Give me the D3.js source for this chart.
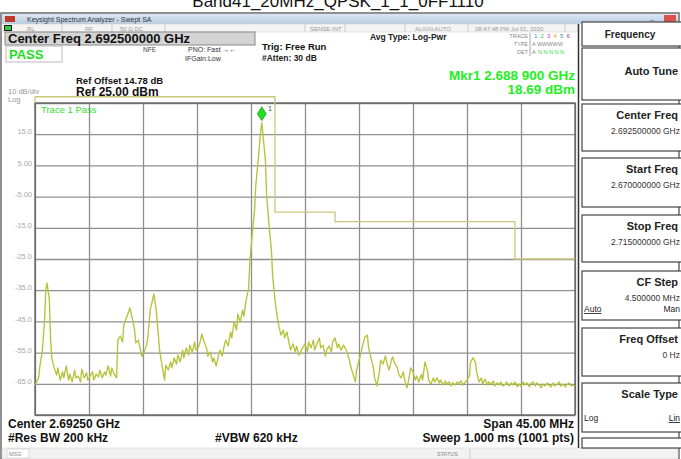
<!DOCTYPE html>
<html><head><meta charset="utf-8">
<script src="https://cdn.jsdelivr.net/npm/d3@7/dist/d3.min.js"></script>
<style>
html,body{margin:0;padding:0;background:#fff;overflow:hidden}
svg{display:block;font-family:"Liberation Sans",Arial,sans-serif}
</style></head>
<body>
<script>
// ---- data ----
const freqMHz = [2670.0,2670.3,2670.4,2670.6,2670.8,2670.9,2671.0,2671.2,2671.3,2671.4,2671.6,2671.8,2671.9,2672.1,2672.3,2672.4,2672.6,2672.8,2672.9,2673.1,2673.3,2673.4,2673.6,2673.8,2673.9,2674.1,2674.3,2674.4,2674.6,2674.8,2674.9,2675.1,2675.3,2675.4,2675.6,2675.8,2675.9,2676.1,2676.3,2676.4,2676.6,2676.8,2676.9,2677.1,2677.3,2677.4,2677.6,2677.8,2677.9,2678.1,2678.3,2678.4,2678.6,2678.8,2678.9,2679.1,2679.3,2679.4,2679.6,2679.8,2679.9,2680.1,2680.3,2680.4,2680.6,2680.8,2680.9,2681.1,2681.3,2681.4,2681.6,2681.8,2681.9,2682.1,2682.3,2682.4,2682.6,2682.8,2682.9,2683.1,2683.3,2683.4,2683.6,2683.8,2683.9,2684.1,2684.3,2684.4,2684.6,2684.8,2684.9,2685.1,2685.3,2685.4,2685.6,2685.8,2685.9,2686.1,2686.3,2686.4,2686.6,2686.8,2686.9,2687.1,2687.3,2687.4,2687.6,2687.8,2687.9,2688.1,2688.3,2688.4,2688.6,2688.8,2688.9,2689.0,2689.2,2689.3,2689.5,2689.7,2689.8,2690.0,2690.2,2690.3,2690.5,2690.7,2690.8,2691.0,2691.2,2691.3,2691.5,2691.7,2691.8,2692.0,2692.2,2692.3,2692.5,2692.7,2692.8,2693.0,2693.2,2693.3,2693.5,2693.7,2693.8,2694.0,2694.2,2694.3,2694.5,2694.7,2694.8,2695.0,2695.2,2695.3,2695.5,2695.7,2695.8,2696.0,2696.2,2696.3,2696.5,2696.7,2696.8,2697.0,2697.2,2697.3,2697.5,2697.7,2697.8,2698.0,2698.2,2698.3,2698.5,2698.7,2698.8,2699.0,2699.2,2699.3,2699.5,2699.7,2699.8,2700.0,2700.2,2700.3,2700.5,2700.7,2700.8,2701.0,2701.2,2701.3,2701.5,2701.7,2701.8,2702.0,2702.2,2702.3,2702.5,2702.7,2702.8,2703.0,2703.2,2703.3,2703.5,2703.7,2703.8,2704.0,2704.2,2704.3,2704.5,2704.7,2704.8,2705.0,2705.2,2705.3,2705.5,2705.7,2705.8,2706.0,2706.2,2706.3,2706.5,2706.7,2706.8,2707.0,2707.2,2707.3,2707.5,2707.7,2707.8,2708.0,2708.2,2708.3,2708.5,2708.7,2708.8,2709.0,2709.2,2709.3,2709.5,2709.7,2709.8,2710.0,2710.2,2710.3,2710.5,2710.7,2710.8,2711.0,2711.2,2711.3,2711.5,2711.7,2711.8,2712.0,2712.2,2712.3,2712.5,2712.7,2712.8,2713.0,2713.2,2713.3,2713.5,2713.7,2713.8,2714.0,2714.2,2714.3,2714.5,2714.7,2714.8,2715.0];
const levelDbm = [-65.4,-63.1,-59.6,-54.8,-44.6,-34.9,-32.7,-38.1,-51.0,-56.7,-59.9,-62.2,-59.9,-63.8,-61.2,-63.1,-59.3,-63.8,-61.9,-64.4,-60.6,-63.1,-62.5,-64.4,-60.3,-63.1,-61.5,-63.8,-62.5,-61.2,-63.8,-61.9,-62.8,-60.6,-63.1,-61.2,-62.2,-59.3,-62.5,-59.9,-61.9,-63.1,-51.0,-49.7,-51.6,-46.2,-43.9,-42.0,-40.7,-43.9,-47.8,-51.9,-51.0,-54.2,-56.1,-54.8,-52.6,-50.3,-41.3,-38.1,-36.2,-41.3,-50.3,-54.8,-59.3,-63.8,-59.0,-60.6,-58.0,-59.9,-56.7,-58.7,-55.8,-58.0,-54.2,-56.7,-53.5,-55.8,-52.6,-54.8,-51.6,-54.2,-53.5,-51.0,-49.0,-51.6,-53.5,-56.1,-54.8,-58.0,-56.7,-59.3,-55.8,-54.2,-56.1,-52.2,-51.0,-52.9,-48.4,-50.3,-45.2,-47.8,-42.6,-45.2,-41.3,-43.3,-38.1,-34.3,-26.0,-17.3,-9.3,-1.3,6.7,15.7,18.69,14.7,6.7,-4.5,-14.1,-22.1,-30.1,-38.1,-43.9,-46.2,-49.4,-47.8,-50.3,-48.4,-52.6,-54.2,-52.2,-54.8,-52.9,-55.8,-54.2,-53.5,-52.2,-54.8,-51.6,-53.5,-51.0,-54.2,-52.2,-50.3,-53.5,-52.6,-56.1,-54.2,-52.9,-54.8,-51.6,-50.3,-53.5,-52.2,-54.2,-52.6,-53.2,-54.8,-57.4,-59.3,-61.9,-64.4,-60.6,-57.4,-54.8,-52.6,-50.0,-49.4,-53.5,-56.7,-59.9,-63.1,-65.7,-61.2,-57.4,-58.7,-56.1,-58.0,-60.6,-57.4,-56.4,-58.7,-59.9,-61.9,-63.1,-61.2,-63.8,-66.3,-62.5,-59.9,-61.2,-63.8,-62.5,-64.4,-61.9,-63.8,-58.0,-60.6,-63.8,-65.1,-63.1,-64.4,-63.1,-64.7,-63.8,-65.4,-64.1,-65.1,-64.4,-65.7,-64.7,-65.4,-64.4,-65.1,-64.1,-65.4,-64.7,-63.8,-62.5,-58.0,-56.7,-58.0,-61.2,-64.4,-63.1,-65.1,-63.5,-65.4,-64.4,-65.1,-64.1,-65.7,-64.7,-65.4,-64.4,-65.7,-65.1,-64.4,-65.7,-64.7,-65.4,-64.4,-66.0,-65.1,-65.7,-64.4,-65.4,-64.7,-66.0,-65.1,-64.4,-65.7,-64.7,-65.4,-66.3,-65.1,-65.7,-64.7,-65.4,-66.0,-64.7,-65.7,-65.1,-64.4,-65.7,-65.1,-66.0,-65.4,-64.7,-65.7,-65.4,-65.7];
const limitFreqMHz = [2670, 2690, 2690, 2695, 2695, 2710, 2710, 2715];
const limitDbm     = [27, 27, -10, -10, -13, -13, -25, -25];
const yTickValues  = [15, 5, -5, -15, -25, -35, -45, -55, -65];
const yTickLabels  = ["15.0", "5.00", "-5.00", "-15.0", "-25.0", "-35.0", "-45.0", "-55.0", "-65.0"];
const startMHz = 2670, stopMHz = 2715, refDbm = 25, bottomDbm = -75;
const markerFreqMHz = 2688.9, markerDbm = 18.69;
const softkeys = [
  {title:"Auto Tune"},
  {title:"Center Freq", value:"2.692500000 GHz"},
  {title:"Start Freq", value:"2.670000000 GHz"},
  {title:"Stop Freq", value:"2.715000000 GHz"},
  {title:"CF Step", value:"4.500000 MHz", left:"Auto", right:"Man"},
  {title:"Freq Offset", value:"0 Hz"},
  {title:"Scale Type", left:"Log", right:"Lin"}
];

// ---- drawing ----
const W = 681, H = 459;
const svg = d3.select("body").append("svg").attr("width", W).attr("height", H);
const plot = {l:35, r:575, t:103, b:415};
const x = d3.scaleLinear().domain([startMHz, stopMHz]).range([plot.l, plot.r]);
const y = d3.scaleLinear().domain([refDbm, bottomDbm]).range([plot.t, plot.b]);

// page title (cut off at top, as in the reference)
svg.append("text").attr("x", 338).attr("y", 7).attr("text-anchor","middle")
  .attr("font-size", 17).attr("fill","#111").text("Band41_20MHz_QPSK_1_1_0FF1110");

// window frame
svg.append("rect").attr("x",1).attr("y",13).attr("width",678).attr("height",446).attr("fill","#fff").attr("stroke","#6b6b6b").attr("stroke-width",1.5);
const tg = svg.append("defs").append("linearGradient").attr("id","tb").attr("x1",0).attr("x2",0).attr("y1",0).attr("y2",1);
tg.append("stop").attr("offset","0").attr("stop-color","#dbe6f3");
tg.append("stop").attr("offset","1").attr("stop-color","#b9cde4");
svg.append("rect").attr("x",2).attr("y",14).attr("width",676).attr("height",10).attr("fill","url(#tb)");
svg.append("rect").attr("x",5).attr("y",16).attr("width",10).attr("height",6).attr("fill","#c0392b");
svg.append("text").attr("x",27).attr("y",22).attr("font-size",7).attr("fill","#333").text("Keysight Spectrum Analyzer - Swept SA");
svg.append("rect").attr("x",664).attr("y",15).attr("width",12).attr("height",8).attr("fill","#d9534f");
svg.append("text").attr("x",650).attr("y",22).attr("font-size",8).attr("fill","#666").text("–");
// status row
svg.append("rect").attr("x",2).attr("y",24).attr("width",576).attr("height",8).attr("fill","#f4f4f4").attr("stroke","#ccc").attr("stroke-width",0.5);
svg.append("rect").attr("x",4).attr("y",25).attr("width",8).attr("height",6).attr("fill","#1a1a1a");
svg.append("rect").attr("x",5).attr("y",26).attr("width",6).attr("height",4).attr("fill","#2ecc40");
const statusItems = [[27,"RL"],[85,"RF"],[120,"50 Ω  DC"],[310,"SENSE:INT"],[415,"ALIGN AUTO"],[475,"08:47:48 PM Jul 01, 2020"]];
statusItems.forEach(d=>svg.append("text").attr("x",d[0]).attr("y",31).attr("font-size",6).attr("fill","#999").text(d[1]));
[62,112,165,305,345,405,468,565].forEach(v=>svg.append("line").attr("x1",v).attr("x2",v).attr("y1",24).attr("y2",32).attr("stroke","#ccc"));

// header info
svg.append("rect").attr("x",5).attr("y",32).attr("width",250).attr("height",13).attr("fill","#d4d4d4").attr("stroke","#888");
svg.append("text").attr("x",8).attr("y",43).attr("font-size",13).attr("font-weight","bold").attr("fill","#111").text("Center Freq 2.692500000 GHz");
svg.append("rect").attr("x",6).attr("y",46).attr("width",56).attr("height",16).attr("fill","#fff").attr("stroke","#bbb");
svg.append("text").attr("x",9).attr("y",59).attr("font-size",13).attr("font-weight","bold").attr("fill","#22dd22").text("PASS");
svg.append("text").attr("x",143).attr("y",52).attr("font-size",6.5).attr("fill","#444").text("NFE");
svg.append("text").attr("x",188).attr("y",52).attr("font-size",7).attr("fill","#333").text("PNO: Fast  \u2192\u2190");
svg.append("text").attr("x",185).attr("y",61).attr("font-size",7).attr("fill","#333").text("IFGain:Low");
svg.append("text").attr("x",262).attr("y",50).attr("font-size",9.5).attr("font-weight","bold").attr("fill","#111").text("Trig: Free Run");
svg.append("text").attr("x",262).attr("y",61).attr("font-size",8.5).attr("font-weight","bold").attr("fill","#222").text("#Atten: 30 dB");
svg.append("text").attr("x",370).attr("y",40).attr("font-size",8.5).attr("font-weight","bold").attr("fill","#222").text("Avg Type: Log-Pwr");
svg.append("text").attr("x",528).attr("y",38).attr("text-anchor","end").attr("font-size",5.5).attr("fill","#888").text("TRACE");
svg.append("text").attr("x",528).attr("y",46).attr("text-anchor","end").attr("font-size",5.5).attr("fill","#888").text("TYPE");
svg.append("text").attr("x",528).attr("y",54).attr("text-anchor","end").attr("font-size",5.5).attr("fill","#888").text("DET");
svg.append("line").attr("x1",530).attr("x2",530).attr("y1",33).attr("y2",56).attr("stroke","#aaa");
const traceCols = ["#39c","#3c3","#c3c","#f93","#39c","#93c"];
traceCols.forEach((c,i)=>svg.append("text").attr("x",534+i*6.5).attr("y",38).attr("font-size",6).attr("fill",c).text(i+1));
svg.append("text").attr("x",532).attr("y",46).attr("font-size",5.5).attr("fill","#888").text("A WWWWW");
svg.append("text").attr("x",532).attr("y",54).attr("font-size",5.5).attr("fill","#888").text("A");
svg.append("text").attr("x",538).attr("y",54).attr("font-size",5.5).attr("fill","#33dd33").text("N N N N N");
svg.append("text").attr("x",575).attr("y",80).attr("text-anchor","end").attr("font-size",13.5).attr("font-weight","bold").attr("fill","#22ee22").text("Mkr1 2.688 900 GHz");
svg.append("text").attr("x",575).attr("y",94).attr("text-anchor","end").attr("font-size",13.5).attr("font-weight","bold").attr("fill","#22ee22").text("18.69 dBm");
svg.append("text").attr("x",76).attr("y",84).attr("font-size",9.5).attr("font-weight","bold").attr("fill","#111").text("Ref Offset 14.78 dB");
svg.append("text").attr("x",76).attr("y",96).attr("font-size",12).attr("font-weight","bold").attr("fill","#111").text("Ref 25.00 dBm");
svg.append("text").attr("x",8).attr("y",94).attr("font-size",7.5).attr("fill","#999").text("10 dB/div");
svg.append("text").attr("x",8).attr("y",102).attr("font-size",7.5).attr("fill","#999").text("Log");

// grid via axes
const xTicks = d3.range(0, 11).map(i => startMHz + i * (stopMHz - startMHz) / 10);
const gx = svg.append("g").attr("transform", `translate(0,${plot.b})`)
  .call(d3.axisBottom(x).tickValues(xTicks).tickSize(-(plot.b - plot.t)).tickFormat(""));
gx.selectAll("line").attr("stroke","#8f8f8f").attr("stroke-width",1.3);
gx.select(".domain").remove();
const gridY = d3.range(0, 11).map(i => refDbm - i * 10);
const gy = svg.append("g").attr("transform", `translate(${plot.l},0)`)
  .call(d3.axisLeft(y).tickValues(gridY).tickSize(-(plot.r - plot.l)).tickFormat(""));
gy.selectAll("line").attr("stroke","#8f8f8f").attr("stroke-width",1.3);
gy.select(".domain").remove();
const gyl = svg.append("g").attr("transform", `translate(${plot.l},0)`)
  .call(d3.axisLeft(y).tickValues(yTickValues).tickSize(0).tickPadding(3).tickFormat((d,i)=>yTickLabels[i]));
gyl.select(".domain").remove();
gyl.selectAll("text").attr("fill","#aaa").attr("font-size",7.5).attr("font-family","Liberation Sans, Arial, sans-serif").attr("dy","-0.05em");
svg.append("rect").attr("x",plot.l).attr("y",plot.t).attr("width",plot.r-plot.l).attr("height",plot.b-plot.t)
  .attr("fill","none").attr("stroke","#555").attr("stroke-width",1.2);

svg.append("text").attr("x",41).attr("y",113).attr("font-size",9.5).attr("fill","#33dd33").text("Trace 1 Pass");

// limit line
const limitPts = limitFreqMHz.map((f,i)=>[f, limitDbm[i]]);
svg.append("path").datum(limitPts)
  .attr("d", d3.line().x(d=>x(d[0])).y(d=>y(d[1])))
  .attr("fill","none").attr("stroke","#c9c77c").attr("stroke-width",1.3);
svg.append("line").attr("x1",plot.l).attr("x2",plot.l).attr("y1",y(27)).attr("y2",plot.t).attr("stroke","#c9c77c").attr("stroke-width",1.3);

// trace
const pts = freqMHz.map((f,i)=>[f, levelDbm[i]]);
svg.append("path").datum(pts)
  .attr("d", d3.line().x(d=>x(d[0])).y(d=>y(d[1])))
  .attr("fill","none").attr("stroke","#b4c43a").attr("stroke-width",1.35).attr("stroke-linejoin","round");

// marker
const mx = x(markerFreqMHz), my = y(markerDbm) - 9;
svg.append("path").attr("d",`M${mx},${my-7} L${mx+4.5},${my} L${mx},${my+7} L${mx-4.5},${my} Z`)
  .attr("fill","#22dd22").attr("stroke","#118811").attr("stroke-width",0.6);
svg.append("text").attr("x",mx+6).attr("y",my-3).attr("font-size",8).attr("fill","#555").text("1");

// footer
svg.append("text").attr("x",8).attr("y",428).attr("font-size",12).attr("font-weight","bold").attr("fill","#111").text("Center 2.69250 GHz");
svg.append("text").attr("x",8).attr("y",442).attr("font-size",12).attr("font-weight","bold").attr("fill","#111").text("#Res BW 200 kHz");
svg.append("text").attr("x",215).attr("y",442).attr("font-size",12).attr("font-weight","bold").attr("fill","#111").text("#VBW 620 kHz");
svg.append("text").attr("x",574).attr("y",428).attr("text-anchor","end").attr("font-size",12).attr("font-weight","bold").attr("fill","#111").text("Span 45.00 MHz");
svg.append("text").attr("x",574).attr("y",442).attr("text-anchor","end").attr("font-size",12).attr("font-weight","bold").attr("fill","#111").text("Sweep  1.000 ms (1001 pts)");
svg.append("rect").attr("x",2).attr("y",448).attr("width",676).attr("height",11).attr("fill","#f2f2f2").attr("stroke","#ccc").attr("stroke-width",0.5);
svg.append("rect").attr("x",7).attr("y",449).attr("width",22).attr("height",9).attr("fill","#fff").attr("stroke","#bbb").attr("stroke-width",0.5);
svg.append("text").attr("x",9).attr("y",456).attr("font-size",5.5).attr("fill","#888").text("MSG");
svg.append("text").attr("x",437).attr("y",456).attr("font-size",5.5).attr("fill","#888").text("STATUS");
svg.append("line").attr("x1",470).attr("x2",470).attr("y1",449).attr("y2",459).attr("stroke","#ccc");

// softkey panel
svg.append("line").attr("x1",578.5).attr("x2",578.5).attr("y1",24).attr("y2",448).attr("stroke","#333").attr("stroke-width",1.5);
svg.append("rect").attr("x",582).attr("y",22).attr("width",100).attr("height",24).attr("fill","#fff").attr("stroke","#444").attr("stroke-width",1.2);
svg.append("text").attr("x",630).attr("y",38).attr("text-anchor","middle").attr("font-size",10).attr("font-weight","bold").attr("fill","#222").text("Frequency");
const boxTops = [48, 104, 158, 215, 271, 328, 383];
const boxH = [52, 47, 49, 47, 49, 48, 49];
softkeys.forEach((k,i)=>{
  const t = boxTops[i], h = boxH[i];
  svg.append("rect").attr("x",582).attr("y",t).attr("width",100).attr("height",h).attr("fill","#fff").attr("stroke","#444").attr("stroke-width",1.2);
  const ty = k.value || k.left ? t + 15 : t + 27;
  svg.append("text").attr("x",678).attr("y",ty).attr("text-anchor","end").attr("font-size",11).attr("font-weight","bold").attr("fill","#222").text(k.title);
  if (k.value) svg.append("text").attr("x",680).attr("y",t+30).attr("text-anchor","end").attr("font-size",8.5).attr("fill","#333").text(k.value);
  if (k.left) {
    const ly = k.value ? t + 41 : t + 38;
    svg.append("text").attr("x",584).attr("y",ly).attr("font-size",8.5).attr("fill","#222").attr("text-decoration", k.title==="CF Step" ? "underline" : null).text(k.left);
    svg.append("text").attr("x",680).attr("y",ly).attr("text-anchor","end").attr("font-size",8.5).attr("fill","#222").attr("text-decoration", k.title==="Scale Type" ? "underline" : null).text(k.right);
  }
});
svg.append("rect").attr("x",582).attr("y",438).attr("width",100).attr("height",10).attr("fill","#fff").attr("stroke","#444").attr("stroke-width",1.2);
</script>
</body></html>
